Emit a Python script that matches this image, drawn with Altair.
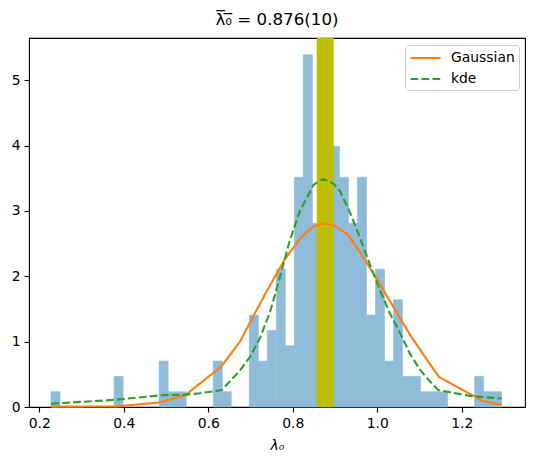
import altair as alt
import numpy as np
import pandas as pd

# ---- histogram of the lambda_0 samples (50 equal bins) ----
bin_lo, bin_hi = 0.2277, 1.2944
counts = [1, 0, 0, 0, 0, 0, 0, 2, 0, 0,
          0, 0, 3, 1, 1, 0, 0, 0, 3, 1,
          0, 0, 6, 3, 5, 9, 4, 15, 23, 12,
          16, 17, 15, 12, 15, 6, 9, 3, 7, 2,
          2, 1, 1, 1, 0, 0, 0, 2, 1, 1]
n_samples = 200

# ---- mean +/- uncertainty band ----
band_lo, band_hi = 0.8566, 0.8968

# ---- fitted Gaussian, evaluated at the sorted samples ----
gauss_x = [0.228, 0.380, 0.486, 0.545, 0.608, 0.632, 0.675, 0.700, 0.740, 0.780,
           0.820, 0.850, 0.876, 0.900, 0.930, 0.960, 1.000, 1.040, 1.080, 1.120,
           1.146, 1.250, 1.294]
gauss_y = [0.005, 0.008, 0.07, 0.18, 0.50, 0.63, 1.00, 1.31, 1.79, 2.25,
           2.60, 2.77, 2.81, 2.77, 2.64, 2.36, 1.95, 1.51, 1.08, 0.70,
           0.46, 0.09, 0.035]

# ---- kernel density estimate, evaluated at the sorted samples ----
kde_x = [0.228, 0.380, 0.490, 0.546, 0.580, 0.632, 0.675, 0.699, 0.722, 0.746,
         0.770, 0.793, 0.817, 0.849, 0.872, 0.896, 0.912, 0.935, 0.959, 0.983,
         1.006, 1.030, 1.054, 1.077, 1.101, 1.125, 1.144, 1.219, 1.294]
kde_y = [0.05, 0.11, 0.18, 0.19, 0.21, 0.26, 0.56, 0.77, 1.05, 1.45,
         2.00, 2.55, 3.00, 3.40, 3.49, 3.42, 3.30, 2.98, 2.59, 2.17,
         1.79, 1.43, 1.13, 0.82, 0.57, 0.39, 0.26, 0.17, 0.13]

x_ticks = [0.2, 0.4, 0.6, 0.8, 1.0, 1.2]
y_ticks = [0, 1, 2, 3, 4, 5]
x_domain = [0.1756, 1.3496]
y_domain = [0, 5.646]

edges = np.linspace(bin_lo, bin_hi, len(counts) + 1)
width = edges[1] - edges[0]
hist = pd.DataFrame({
    "left": edges[:-1],
    "right": edges[1:],
    "density": np.array(counts) / (n_samples * width),
})
hist = hist[hist["density"] > 0]

band = pd.DataFrame({"lo": [band_lo], "hi": [band_hi]})

curves = pd.concat([
    pd.DataFrame({"v": gauss_x, "dens": gauss_y, "curve": "Gaussian"}),
    pd.DataFrame({"v": kde_x, "dens": kde_y, "curve": "kde"}),
])

FONT = "DejaVu Sans"
BAR = "#8fbbd9"   # tab:blue at half alpha over white

xscale = alt.Scale(domain=x_domain, nice=False, zero=False)
yscale = alt.Scale(domain=y_domain, nice=False, zero=False)

x_axis = alt.Axis(values=x_ticks, format=".1f", title="λ₀", grid=False,
                  tickSize=5, tickWidth=1.1, tickColor="black", labelPadding=4,
                  labelFontSize=13.9, labelColor="black", labelFont=FONT,
                  titleFontSize=13.9, titleFont=FONT, titleFontWeight="normal",
                  titleFontStyle="italic", titleColor="black", titlePadding=9,
                  domain=False, labelFlush=False)
y_axis = alt.Axis(values=y_ticks, format="d", title=None, grid=False,
                  tickSize=5, tickWidth=1.1, tickColor="black", labelPadding=4,
                  labelFontSize=13.9, labelColor="black", labelFont=FONT,
                  domain=False, labelFlush=False)

bars = alt.Chart(hist).mark_rect(color=BAR, stroke=BAR, strokeWidth=0.6).encode(
    x=alt.X("left:Q", scale=xscale, axis=x_axis),
    x2="right:Q",
    y=alt.Y("density:Q", scale=yscale, axis=y_axis),
    y2=alt.datum(0),
)

span = alt.Chart(band).mark_rect(color="#bfbf00").encode(
    x=alt.X("lo:Q", scale=xscale),
    x2="hi:Q",
    y=alt.value(0),
    y2=alt.value(369),
)

legend = alt.Legend(title=None, orient="none", legendX=376, legendY=7,
                    symbolType="M-1,0H3", symbolSize=225,
                    symbolStrokeWidth=2.1, labelFontSize=13.9, labelFont=FONT,
                    labelColor="black", labelOffset=24, padding=4,
                    rowPadding=5, strokeColor="#cccccc", fillColor="white",
                    cornerRadius=3)

curve_names = ["Gaussian", "kde"]
lines = alt.Chart(curves).mark_line(strokeWidth=2.1).encode(
    x=alt.X("v:Q", scale=xscale),
    y=alt.Y("dens:Q", scale=yscale),
    color=alt.Color("curve:N",
                    scale=alt.Scale(domain=curve_names,
                                    range=["#ff7f0e", "#2ca02c"]),
                    legend=legend),
    strokeDash=alt.StrokeDash("curve:N",
                              scale=alt.Scale(domain=curve_names,
                                              range=[[1, 0], [7.7, 3.3]]),
                              legend=legend),
)

chart = alt.layer(bars, span, lines).properties(
    width=496,
    height=369,
    title=alt.TitleParams("λ̅₀̅ = 0.876(10)", fontSize=16.7, font=FONT,
                          fontWeight="normal", color="black", offset=9,
                          anchor="middle"),
    autosize=alt.AutoSizeParams(type="none"),
    padding={"left": 29, "top": 38, "right": 9, "bottom": 57},
    background="white",
).configure_view(
    stroke="black", strokeWidth=1.1
)

chart.save("out.html", embed_options={"renderer": "svg", "actions": False})
